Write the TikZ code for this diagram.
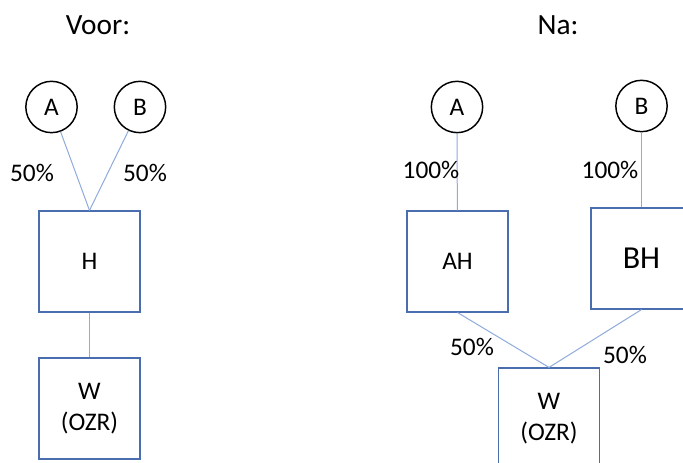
\documentclass[tikz,border=0pt]{standalone}
\usepackage{fontspec}
\setmainfont{Carlito}
\definecolor{boxblue}{HTML}{4A6DB0}
\definecolor{lineblue}{HTML}{8FAADC}
\begin{document}
\begin{tikzpicture}[x=0.75pt,y=-0.75pt,
  txt/.style={font=\fontsize{19}{22.8}\selectfont, inner sep=0pt},
  lbl/.style={txt, anchor=base},
  ttl/.style={lbl, font=\fontsize{22}{26}\selectfont},
  ent/.style={draw=black, line width=1.1pt, circle, minimum size=38.5pt, inner sep=0pt, txt},
  box/.style={draw=boxblue, line width=1.1pt, rectangle, minimum size=75.5pt, inner sep=0pt, txt, align=center},
  conn/.style={draw=lineblue, line width=0.75pt}]
\useasboundingbox (0,0) rectangle (683,463);
\clip (0,0) rectangle (683,463);
% titles
\node[ttl] (voor) at (98,35) {Voor:};
\node[ttl] (na) at (558,35) {Na:};
% left
\node[ent] (a1) at (51.5,107) {A};
\node[ent] (b1) at (140,107) {B};
\node[box] (h) at (89.5,261.5) {H};
\node[box] (w1) at (89.5,408.5) {W\\(OZR)};
\draw[conn] (a1) -- (h.north);
\draw[conn] (b1) -- (h.north);
\draw[conn] (h) -- (w1);
\node[lbl] (p1) at (32,182) {50\%};
\node[lbl] (p2) at (145,182) {50\%};
% right
\node[ent] (a2) at (457,107) {A};
\node[ent] (b2) at (641.5,106) {B};
\node[box] (ah) at (457.5,261.5) {AH};
\node[box, font=\fontsize{24}{28}\selectfont] (bh) at (641.5,258.5) {BH};
\node[box] (w2) at (549,418.5) {W\\(OZR)};
\draw[conn] (a2) -- (ah);
\draw[conn] (b2) -- (bh);
\draw[conn] (ah.south) -- (w2.north);
\draw[conn] (bh.south) -- (w2.north);
\node[lbl] (p3) at (431,179) {100\%};
\node[lbl] (p4) at (610,179) {100\%};
\node[lbl] (p5) at (472,356) {50\%};
\node[lbl] (p6) at (625,364) {50\%};
\end{tikzpicture}
\end{document}
